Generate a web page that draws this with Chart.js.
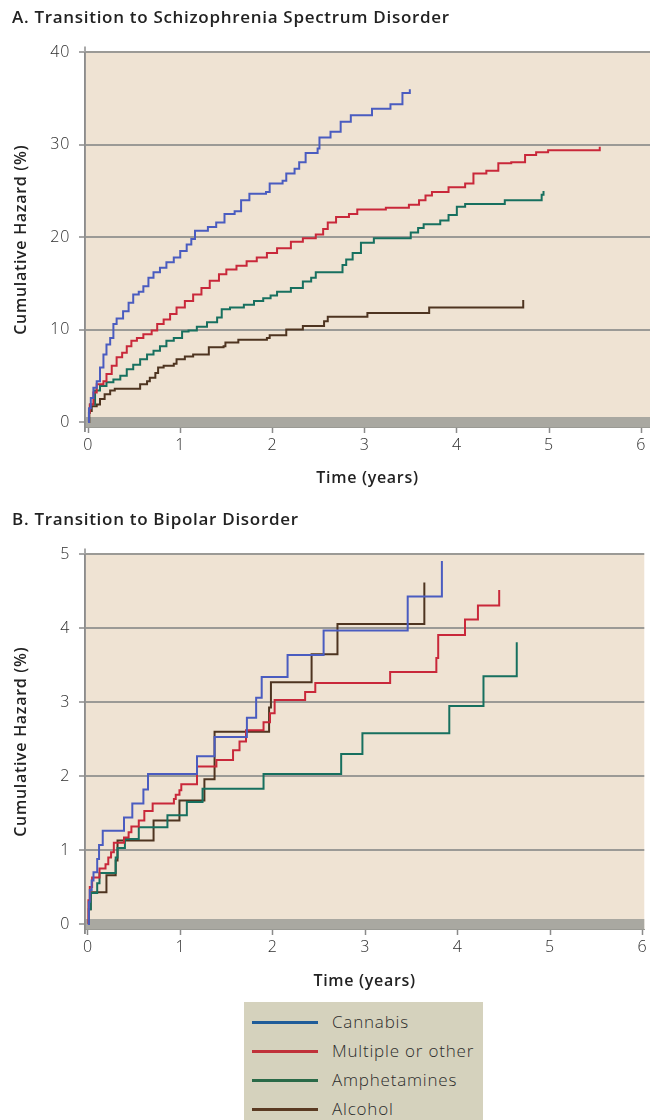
<!DOCTYPE html>
<html>
<head>
<meta charset="utf-8">
<script src="https://cdn.jsdelivr.net/npm/chart.js@4.4.1/dist/chart.umd.min.js"></script>
<style>
  html, body { margin:0; padding:0; background:#ffffff; width:650px; height:1120px; overflow:hidden; }
  #wrapA { position:absolute; left:0; top:0; width:650px; height:500px; }
  #wrapB { position:absolute; left:0; top:500px; width:650px; height:500px; }
  #legend { position:absolute; left:244px; top:1002px; width:239px; height:125px; background:#d5d2bd; font-family:"Open Sans", Lato, sans-serif; font-weight:300; font-size:17px; letter-spacing:0.8px; color:#2b2b2b; }
  .row { position:absolute; left:0; height:22px; width:239px; }
  .row .ln { position:absolute; left:8px; width:66px; height:3px; top:10px; }
  .row .tx { position:absolute; left:88px; top:0; line-height:22px; white-space:nowrap; }
</style>
</head>
<body>
<div id="wrapA"><canvas id="chartA" width="650" height="500"></canvas></div>
<div id="wrapB"><canvas id="chartB" width="650" height="500"></canvas></div>
<div id="legend"></div>
<script>
// ---------------- DATA ----------------
const seriesNames = ["Cannabis", "Multiple or other", "Amphetamines", "Alcohol"];
const xTicks = [0, 1, 2, 3, 4, 5, 6];
const yTicksA = [0, 10, 20, 30, 40];
const yTicksB = [0, 1, 2, 3, 4, 5];

// Panel A: Transition to Schizophrenia Spectrum Disorder  [time (years), cumulative hazard (%)]
const schizCannabis = [[0,0],[0.01,1.5],[0.03,2.6],[0.058,3.7],[0.094,4.4],[0.13,5.9],[0.167,7.3],[0.2,8.4],[0.24,9.1],[0.275,10.6],[0.31,11.2],[0.38,12.0],[0.44,12.9],[0.49,13.8],[0.55,14.1],[0.6,14.7],[0.655,15.6],[0.71,16.2],[0.78,16.7],[0.85,17.3],[0.93,17.8],[1.0,18.5],[1.07,19.2],[1.12,19.8],[1.16,20.7],[1.3,21.1],[1.39,21.6],[1.48,22.5],[1.59,22.8],[1.66,24.0],[1.75,24.7],[1.93,24.9],[1.97,25.8],[2.11,26.1],[2.15,26.9],[2.24,27.4],[2.29,28.1],[2.36,29.1],[2.49,29.6],[2.51,30.8],[2.63,31.4],[2.74,32.5],[2.85,33.2],[3.08,33.9],[3.28,34.4],[3.41,35.6],[3.49,36.0]];
const schizMultiple = [[0,0],[0.01,1.0],[0.02,1.9],[0.058,3.2],[0.094,4.1],[0.167,4.4],[0.2,5.2],[0.257,6.1],[0.31,7.0],[0.37,7.5],[0.42,8.2],[0.47,8.8],[0.53,9.1],[0.6,9.5],[0.69,9.9],[0.75,10.6],[0.82,11.1],[0.89,11.7],[0.96,12.4],[1.05,13.1],[1.14,13.8],[1.23,14.5],[1.32,15.3],[1.42,16.0],[1.5,16.5],[1.61,16.9],[1.72,17.4],[1.83,17.8],[1.94,18.3],[2.05,18.8],[2.2,19.5],[2.33,19.9],[2.47,20.3],[2.55,20.9],[2.6,21.6],[2.69,22.2],[2.83,22.5],[2.92,23.0],[3.23,23.2],[3.48,23.5],[3.59,24.0],[3.66,24.5],[3.73,24.9],[3.91,25.4],[4.09,25.8],[4.18,26.9],[4.32,27.2],[4.45,28.0],[4.59,28.1],[4.74,28.9],[4.86,29.2],[4.99,29.4],[5.55,29.8]];
const schizAmphet = [[0,0],[0.01,1.0],[0.02,1.9],[0.076,3.4],[0.13,3.9],[0.2,4.3],[0.275,4.6],[0.35,5.0],[0.42,5.7],[0.49,6.2],[0.565,6.8],[0.64,7.3],[0.71,7.7],[0.78,8.2],[0.85,8.8],[0.93,9.1],[1.02,9.8],[1.09,9.9],[1.18,10.3],[1.29,10.8],[1.4,11.3],[1.45,12.2],[1.54,12.4],[1.69,12.7],[1.8,13.1],[1.9,13.4],[1.98,13.7],[2.05,14.1],[2.2,14.5],[2.33,15.2],[2.42,15.6],[2.47,16.2],[2.76,17.0],[2.8,17.6],[2.87,18.3],[2.96,19.4],[3.1,19.9],[3.5,20.5],[3.58,21.0],[3.64,21.4],[3.82,21.8],[3.91,22.4],[4.0,23.3],[4.09,23.6],[4.52,24.0],[4.92,24.6],[4.94,25.0]];
const schizAlcohol = [[0,0],[0.014,1.2],[0.04,1.7],[0.094,1.9],[0.13,2.5],[0.18,3.0],[0.24,3.4],[0.29,3.6],[0.565,4.1],[0.64,4.4],[0.67,4.8],[0.73,5.3],[0.76,5.9],[0.82,6.1],[0.93,6.3],[0.96,6.8],[1.05,7.1],[1.14,7.3],[1.31,8.1],[1.47,8.2],[1.49,8.6],[1.63,8.9],[1.94,9.1],[1.97,9.4],[2.15,10.0],[2.33,10.4],[2.56,10.9],[2.6,11.4],[3.03,11.8],[3.7,12.4],[4.72,13.2]];

// Panel B: Transition to Bipolar Disorder  [time (years), cumulative hazard (%)]
const bipolarCannabis = [[0,0],[0.01,0.3],[0.02,0.46],[0.04,0.59],[0.06,0.7],[0.1,0.88],[0.12,1.07],[0.16,1.26],[0.39,1.44],[0.48,1.63],[0.6,1.82],[0.65,2.03],[1.18,2.27],[1.37,2.53],[1.72,2.79],[1.82,3.06],[1.88,3.34],[2.16,3.64],[2.55,3.97],[3.46,4.43],[3.83,4.91]];
const bipolarMultiple = [[0,0],[0.005,0.32],[0.02,0.5],[0.045,0.63],[0.125,0.75],[0.19,0.81],[0.22,0.9],[0.25,0.97],[0.28,1.1],[0.39,1.17],[0.44,1.24],[0.47,1.32],[0.55,1.4],[0.61,1.53],[0.7,1.63],[0.93,1.69],[0.95,1.75],[0.99,1.81],[1.01,1.89],[1.18,2.13],[1.39,2.22],[1.57,2.35],[1.64,2.47],[1.71,2.62],[1.9,2.73],[1.97,2.85],[2.02,3.03],[2.35,3.14],[2.46,3.26],[3.27,3.41],[3.77,3.6],[3.79,3.91],[4.08,4.12],[4.22,4.31],[4.45,4.52]];
const bipolarAmphet = [[0,0],[0.01,0.2],[0.03,0.42],[0.1,0.55],[0.125,0.69],[0.3,0.9],[0.32,1.03],[0.4,1.15],[0.55,1.31],[0.86,1.47],[1.07,1.65],[1.24,1.83],[1.9,2.03],[2.74,2.3],[2.97,2.58],[3.91,2.95],[4.28,3.35],[4.64,3.81]];
const bipolarAlcohol = [[0,0],[0.01,0.2],[0.03,0.43],[0.2,0.66],[0.3,0.86],[0.32,1.13],[0.71,1.4],[0.99,1.67],[1.26,1.96],[1.37,2.6],[1.96,2.93],[1.98,3.27],[2.42,3.65],[2.7,4.06],[3.64,4.62]];

// ---------------- STYLE ----------------
const lineColors = ["#4a5cc0", "#c9283a", "#17705f", "#4e3420"];
const legendColors = ["#1f5c99", "#c0323a", "#2a6a48", "#5a3a22"];
const FONT = "'Open Sans', Lato, sans-serif";

const plotBg = {
  id: 'plotBg',
  beforeDraw(chart) {
    const { ctx, chartArea: { left, top, right, bottom } } = chart;
    ctx.save();
    ctx.fillStyle = '#efe3d3';
    ctx.fillRect(left, top, right - left, bottom - top);
    ctx.restore();
    ctx.letterSpacing = '0.7px';
  },
  afterDraw(chart) {
    // extend the vertical axis line slightly beyond the plot, as in the original
    const { ctx, chartArea: { left, top, bottom } } = chart;
    ctx.save();
    ctx.strokeStyle = '#8d8d8d';
    ctx.lineWidth = 1.5;
    ctx.beginPath();
    ctx.moveTo(left, top - 6);
    ctx.lineTo(left, bottom + 5);
    ctx.stroke();
    ctx.restore();
  }
};

function makeDatasets(list) {
  return list.map((arr, i) => ({
    label: seriesNames[i],
    data: arr.map(p => ({ x: p[0], y: p[1] })),
    borderColor: lineColors[i],
    borderWidth: 2,
    pointRadius: 0,
    stepped: true,
    fill: false
  }));
}

function makeChart(id, cfg) {
  return new Chart(document.getElementById(id), {
    type: 'line',
    data: { datasets: makeDatasets(cfg.series) },
    plugins: [plotBg],
    options: {
      responsive: false,
      animation: false,
      devicePixelRatio: 1,
      layout: { padding: { left: 12, right: 0, top: 0, bottom: 0 } },
      plugins: {
        legend: { display: false },
        tooltip: { enabled: false },
        title: {
          display: true, text: cfg.title, align: 'start', color: '#222',
          font: { family: FONT, size: 17, weight: '600' },
          padding: { top: cfg.titleTop, bottom: cfg.titleBottom }
        }
      },
      scales: {
        x: {
          type: 'linear', min: cfg.xMin, max: cfg.xMax,
          afterBuildTicks: s => { s.ticks = xTicks.map(v => ({ value: v })); },
          afterFit: s => { s.height = cfg.xHeight; },
          grid: { drawOnChartArea: false, drawTicks: true, tickLength: 6, tickColor: '#8a8a8a', tickWidth: 1.5 },
          border: { display: true, color: '#9a9a94', width: 1 },
          ticks: { color: '#2e2e2e', padding: 3, font: { family: FONT, size: 16, weight: '300' }, callback: v => String(v) },
          title: { display: true, text: 'Time (years)', color: '#222', font: { family: FONT, size: 16, weight: '600' }, padding: { top: 0, bottom: cfg.xTitleBottom } }
        },
        y: {
          type: 'linear', min: cfg.yMin, max: cfg.yMax,
          afterBuildTicks: s => { s.ticks = cfg.yTicks.map(v => ({ value: v })); },
          afterFit: s => { s.width = 73; },
          grid: {
            drawOnChartArea: true, drawTicks: true, tickLength: 6,
            color: ctx => (ctx.tick && ctx.tick.value === 0) ? '#a9a8a1' : '#9b9a96',
            lineWidth: ctx => (ctx.tick && ctx.tick.value === 0) ? 10 : 2,
            tickColor: '#8a8a8a', tickWidth: 1.5
          },
          border: { display: true, color: '#8d8d8d', width: 1.5 },
          ticks: { color: '#2e2e2e', padding: 9, font: { family: FONT, size: 16, weight: '300' }, callback: v => String(v) },
          title: { display: true, text: 'Cumulative Hazard (%)', color: '#222', font: { family: FONT, size: 16, weight: '600' }, padding: { top: 0, bottom: 0 } }
        }
      }
    }
  });
}

makeChart('chartA', {
  title: 'A. Transition to Schizophrenia Spectrum Disorder',
  series: [schizCannabis, schizMultiple, schizAmphet, schizAlcohol],
  xMin: -0.033, xMax: 6.095, yMin: -0.54, yMax: 40, yTicks: yTicksA,
  titleTop: 8, titleBottom: 24, xHeight: 73, xTitleBottom: 12
});

makeChart('chartB', {
  title: 'B. Transition to Bipolar Disorder',
  series: [bipolarCannabis, bipolarMultiple, bipolarAmphet, bipolarAlcohol],
  xMin: -0.032, xMax: 6.02, yMin: -0.0674, yMax: 5, yTicks: yTicksB,
  titleTop: 10, titleBottom: 24, xHeight: 71, xTitleBottom: 9
});

// HTML legend
const legend = document.getElementById('legend');
const rowTops = [9, 38, 67, 96];
seriesNames.forEach((name, i) => {
  const row = document.createElement('div');
  row.className = 'row';
  row.style.top = rowTops[i] + 'px';
  const ln = document.createElement('div');
  ln.className = 'ln';
  ln.style.background = legendColors[i];
  const tx = document.createElement('div');
  tx.className = 'tx';
  tx.textContent = name;
  row.appendChild(ln); row.appendChild(tx);
  legend.appendChild(row);
});
</script>
</body>
</html>
